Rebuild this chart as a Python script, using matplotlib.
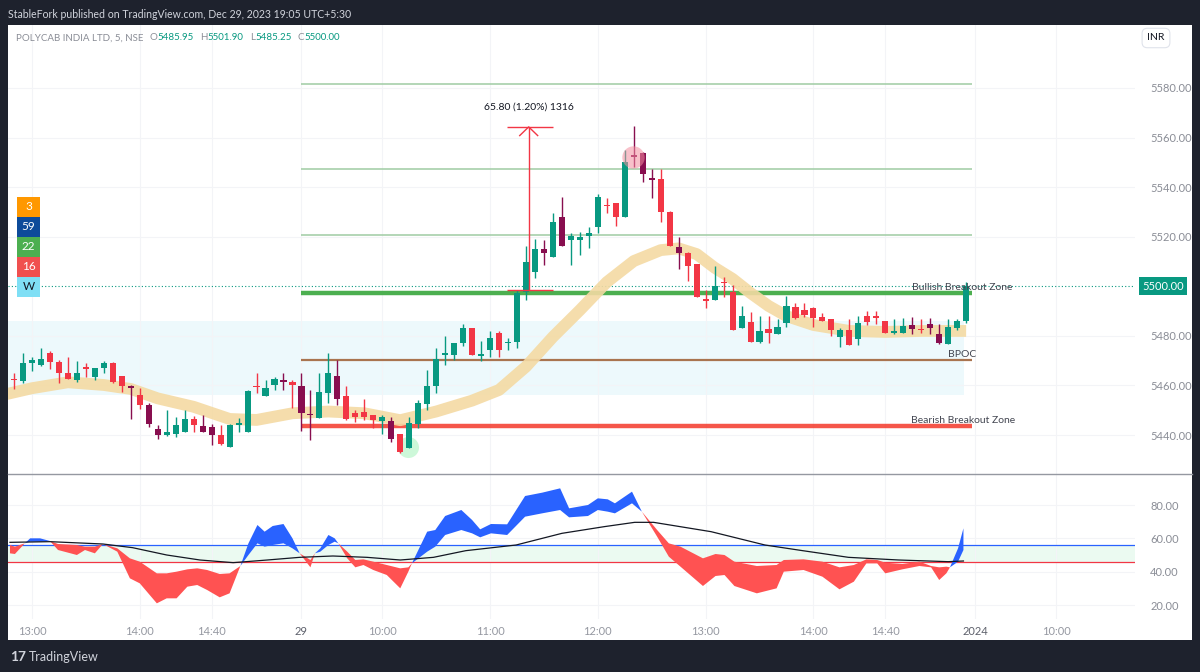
import matplotlib.pyplot as plt
import numpy as np
from matplotlib.patches import Rectangle
from matplotlib.lines import Line2D

# --- price data (5 min bars, bar index 0 = 28 Dec 13:00) ---
bar_idx = list(range(-2, 105))
opens = [5462.6, 5461.9, 5469.2, 5468.4, 5473.0, 5469.6, 5464.9, 5462.2, 5467.6, 5463.5,
         5466.9, 5469.2, 5463.9, 5459.8, 5456.2, 5452.1, 5442.3, 5440.0, 5440.4, 5441.3,
         5446.3, 5443.8, 5443.1, 5440.0, 5435.3, 5444.0, 5441.3, 5459.5, 5455.9, 5460.2,
         5462.2, 5461.3, 5459.8, 5448.5, 5446.8, 5456.8, 5463.9, 5455.9, 5449.0, 5449.3,
         5448.1, 5445.8, 5445.8, 5440.4, 5434.9, 5444.5, 5452.5, 5459.8, 5472.4, 5472.3,
         5477.0, 5483.1, 5472.0, 5474.3, 5481.3, 5477.0, 5477.7, 5497.8, 5505.9, 5514.9,
         5511.9, 5528.1, 5518.7, 5518.7, 5520.3, 5523.8, 5532.8, 5533.5, 5528.1, 5553.0,
         5553.9, 5543.6, 5543.2, 5530.1, 5516.0, 5513.6, 5509.0, 5494.8, 5494.5, 5501.9,
         5497.8, 5483.1, 5485.7, 5477.7, 5482.7, 5480.8, 5485.1, 5491.8, 5490.5, 5491.1,
         5487.5, 5486.7, 5479.4, 5482.4, 5478.6, 5488.0, 5488.0, 5486.1, 5481.3, 5481.3,
         5484.4, 5482.7, 5484.8, 5480.8, 5476.7, 5483.1, 5485.95]
highs = [5465.2, 5473.2, 5471.6, 5475.0, 5473.9, 5470.3, 5471.6, 5470.0, 5469.2, 5467.2,
         5470.0, 5469.5, 5464.0, 5460.0, 5458.9, 5452.8, 5444.0, 5450.1, 5447.2, 5450.1,
         5447.7, 5448.1, 5444.5, 5444.0, 5444.5, 5446.8, 5458.0, 5465.2, 5462.2, 5463.5,
         5465.2, 5462.2, 5465.0, 5458.2, 5465.0, 5473.0, 5470.3, 5459.8, 5450.1, 5454.4,
         5448.2, 5448.1, 5447.4, 5440.5, 5447.4, 5454.1, 5466.2, 5475.0, 5480.0, 5477.1,
         5484.7, 5483.2, 5478.1, 5482.1, 5482.1, 5479.0, 5498.5, 5516.3, 5519.1, 5518.7,
         5529.5, 5536.2, 5521.6, 5522.0, 5523.8, 5537.2, 5535.5, 5533.6, 5555.0, 5564.7,
         5554.0, 5547.2, 5547.2, 5530.2, 5520.0, 5513.7, 5509.1, 5498.5, 5508.2, 5503.9,
         5500.5, 5492.1, 5489.8, 5488.0, 5488.0, 5486.7, 5496.1, 5493.4, 5493.1, 5491.5,
         5489.1, 5486.8, 5483.1, 5486.7, 5488.0, 5490.2, 5490.2, 5486.2, 5486.7, 5487.1,
         5487.5, 5486.7, 5487.1, 5484.8, 5486.7, 5486.7, 5501.9]
lows = [5458.5, 5460.9, 5466.0, 5467.9, 5466.5, 5460.9, 5462.5, 5461.5, 5463.5, 5462.2,
        5465.2, 5461.0, 5457.5, 5446.3, 5450.4, 5443.1, 5438.3, 5439.6, 5439.3, 5441.2,
        5441.3, 5441.3, 5436.0, 5436.0, 5435.3, 5441.3, 5441.2, 5457.1, 5455.8, 5458.2,
        5458.2, 5450.8, 5441.6, 5438.0, 5446.7, 5452.8, 5452.1, 5446.2, 5445.4, 5446.1,
        5442.7, 5440.4, 5437.3, 5432.6, 5434.8, 5442.7, 5450.1, 5457.1, 5468.3, 5470.3,
        5475.9, 5472.2, 5470.0, 5471.6, 5471.4, 5474.3, 5475.0, 5494.5, 5503.2, 5508.6,
        5511.9, 5516.2, 5508.6, 5512.6, 5515.3, 5521.4, 5529.5, 5524.3, 5528.0, 5548.3,
        5542.2, 5535.5, 5526.1, 5516.2, 5506.9, 5502.3, 5495.7, 5491.1, 5494.4, 5495.8,
        5482.3, 5483.0, 5477.6, 5477.3, 5477.3, 5480.7, 5483.7, 5487.0, 5487.5, 5483.5,
        5486.0, 5480.0, 5475.4, 5476.2, 5476.3, 5484.4, 5484.8, 5481.0, 5480.8, 5481.2,
        5480.8, 5481.3, 5480.8, 5476.7, 5476.6, 5482.4, 5485.25]
closes = [5462.2, 5469.2, 5470.3, 5470.6, 5469.6, 5464.9, 5462.7, 5464.9, 5466.5, 5466.9,
          5469.2, 5461.3, 5459.8, 5458.9, 5452.1, 5444.5, 5440.0, 5441.1, 5444.0, 5446.3,
          5444.0, 5441.3, 5440.0, 5436.3, 5444.0, 5444.7, 5457.9, 5459.2, 5458.9, 5462.5,
          5461.3, 5460.3, 5448.9, 5447.9, 5457.5, 5464.9, 5454.4, 5446.3, 5447.4, 5447.4,
          5446.1, 5447.4, 5438.3, 5433.3, 5444.7, 5452.8, 5459.8, 5470.6, 5473.0, 5477.0,
          5483.1, 5472.3, 5472.7, 5479.0, 5474.3, 5477.4, 5497.2, 5509.9, 5515.0, 5513.3,
          5525.8, 5516.3, 5520.3, 5520.0, 5521.4, 5535.9, 5532.4, 5528.1, 5550.3, 5552.0,
          5545.3, 5542.9, 5530.1, 5516.3, 5513.6, 5508.2, 5495.8, 5494.2, 5500.1, 5501.2,
          5482.4, 5488.0, 5477.7, 5482.1, 5481.3, 5483.5, 5492.1, 5487.1, 5488.4, 5487.1,
          5486.1, 5482.4, 5482.4, 5476.3, 5485.3, 5485.7, 5487.1, 5481.3, 5481.7, 5484.0,
          5482.7, 5482.4, 5483.1, 5477.0, 5483.5, 5486.1, 5500.0]
# g = up, r = down, m = strong down (maroon bar colouring); one letter per bar
kinds = ("rgggrrrgrgg" "rrmrmmgggrmmrggg"
         "rggmrmmggm" "rrrrgmrggg" "ggggrggrgg" "ggmgmggggr"
         "rgmmmrrmrr" "rgrrgrgrgg" "rrrrrgrgrr" "rggmrmmggg")

# smoothed average band
ma_x = [-3, 0, 4, 8, 11, 14, 18, 22, 25, 29, 33, 37, 41, 45, 49, 52, 55, 58, 61, 64,
        67, 70, 72, 74, 76, 78, 80, 82, 84, 87, 91, 95, 99, 104]
ma_y = [5456.4, 5458.9, 5461.3, 5460.2, 5458.6, 5454.8, 5451.4, 5446.5, 5446.1, 5448.8,
        5449.5, 5448.8, 5446.0, 5449.5, 5453.9, 5458.2, 5467.6, 5479.6, 5490.4, 5501.7,
        5510.2, 5514.6, 5515.3, 5513.0, 5507.5, 5503.0, 5497.3, 5492.1, 5488.0, 5484.4,
        5482.0, 5481.6, 5482.0, 5482.0]

fib_levels = [5581.6, 5547.3, 5520.7]
bull_level = 5497.2
bpoc_level = 5470.3
bear_level = 5443.6
zone_lo, zone_hi = 5456.2, 5486.0
last_price = 5500.00
measure_lo, measure_hi = 5498.5, 5564.3

# --- oscillator ---
ind_x = [-2.45, -1.9, -0.8, -0.2, 0.9, 2.0, 2.9, 5.0, 5.9, 7.0, 7.9, 9.5, 10.9, 12.0,
         13.9, 15.0, 16.1, 17.3, 18.4, 19.5, 20.9, 22.0, 23.2, 24.1, 25.1, 25.9, 26.8,
         28.0, 29.0, 29.8, 31.0, 31.5, 32.1, 33.0, 33.7, 34.1, 35.1, 36.0, 36.9, 38.0,
         39.5, 41.0, 41.9, 42.3, 44.0, 44.9, 46.0, 47.8, 49.0, 49.9, 51.1, 52.9, 54.9,
         56.8, 58.8, 59.8, 61.9, 63.0, 64.1, 64.9, 66.8, 67.9, 69.6, 70.9, 72.2, 74.7,
         76.1, 77.1, 78.2, 80.7, 82.9, 83.7, 85.9, 88.0, 89.9, 91.5, 92.9, 94.1, 95.0,
         96.9, 98.8, 100.1, 101.0, 101.8, 102.2, 103.1, 103.7]
ind_fast = [51.0, 50.6, 57.0, 60.0, 60.0, 58.4, 53.0, 50.0, 53.0, 51.0, 56.6, 52.0, 36.0,
            33.0, 21.0, 24.0, 24.0, 31.0, 32.0, 29.0, 24.6, 27.0, 43.4, 57.0, 68.0, 64.0,
            67.4, 68.6, 60.0, 51.0, 42.6, 51.0, 54.0, 62.0, 60.0, 57.0, 48.0, 42.6, 44.0,
            41.0, 38.0, 30.0, 40.0, 45.0, 64.0, 65.0, 73.4, 77.0, 71.0, 65.4, 68.6, 68.4,
            85.4, 87.4, 90.0, 78.0, 80.0, 84.0, 83.4, 81.0, 88.0, 76.0, 61.0, 49.0, 43.0,
            31.4, 37.4, 38.0, 31.4, 27.0, 30.0, 40.0, 41.0, 37.0, 29.4, 34.0, 45.0, 45.0,
            39.0, 41.4, 43.4, 42.6, 35.0, 39.0, 42.6, 54.0, 66.0]
ind_slow = [56.0, 55.0, 57.0, 58.0, 58.0, 58.4, 56.6, 56.0, 55.0, 55.0, 56.6, 54.0, 48.0,
            46.0, 39.0, 39.0, 40.0, 41.4, 42.0, 41.0, 38.6, 39.0, 43.4, 50.0, 57.0, 55.0,
            56.0, 57.0, 54.0, 51.0, 47.0, 51.0, 52.0, 56.0, 58.0, 57.0, 52.0, 47.0, 47.4,
            46.0, 44.0, 42.0, 42.6, 45.0, 52.0, 55.0, 62.0, 65.0, 63.0, 60.6, 63.0, 62.0,
            73.0, 75.0, 77.0, 72.6, 73.4, 77.0, 76.0, 75.0, 81.0, 76.0, 65.0, 57.0, 55.0,
            48.0, 50.6, 50.0, 46.0, 43.4, 44.0, 47.0, 47.4, 46.0, 42.6, 44.0, 47.4, 47.0,
            45.4, 44.6, 46.0, 43.4, 42.6, 43.0, 42.6, 46.0, 53.0]
sig_x = [-2.45, 2.0, 7.9, 11.2, 15.0, 18.7, 22.4, 26.2, 29.8, 33.5, 37.3, 41.0, 44.7,
         48.3, 53.9, 59.0, 63.7, 67.1, 69.2, 75.6, 81.6, 85.8, 90.9, 96.5, 102.0, 103.7]
sig_y = [57.6, 58.0, 56.6, 54.4, 50.0, 47.0, 45.4, 47.0, 48.6, 49.4, 48.6, 47.0, 48.6,
         52.6, 56.0, 63.0, 67.0, 69.6, 69.6, 64.0, 56.0, 52.6, 48.6, 47.0, 46.0, 46.4]
ind_upper, ind_lower = 56, 46

tick_pos = [0, 12, 20, 30, 39, 51, 63, 75, 87, 95, 105, 114]
tick_lbl = ["13:00", "14:00", "14:40", "29", "10:00", "11:00", "12:00", "13:00",
            "14:00", "14:40", "2024", "10:00"]

assert len(kinds) == len(bar_idx) == len(opens)

GREEN, RED, MAROON = "#089981", "#f23645", "#880e4f"
GREY = "#8a8d96"
plt.rcParams["font.family"] = ["Lato", "DejaVu Sans"]

W, H = 1200, 672
fig = plt.figure(figsize=(12, 6.72), dpi=100, facecolor="#1e222d")


def fx(px):
    return px / W


def fy(py):
    return 1 - py / H


fig.patches.append(Rectangle((fx(8), fy(640)), fx(1192) - fx(8), fy(25) - fy(640),
                             transform=fig.transFigure, fc="white", ec="none", zorder=-5))

ax = fig.add_axes([fx(8), fy(474), fx(1135) - fx(8), fy(25) - fy(474)])
ax2 = fig.add_axes([fx(8), fy(619), fx(1135) - fx(8), fy(474) - fy(619)], sharex=ax)
for a in (ax, ax2):
    a.set_facecolor("none")
    for s in a.spines.values():
        s.set_visible(False)
    a.yaxis.tick_right()
    a.tick_params(axis="both", length=0, labelsize=8, labelcolor=GREY)
    a.grid(True, color="#f3f4f7", lw=0.8, zorder=0)

ax.set_xlim(-2.67, 122.8)
ax.set_ylim(5424.3, 5605.4)
ax.tick_params(axis="x", labelbottom=False)
ax.tick_params(axis="y", pad=11)
pticks = [5440, 5460, 5480, 5520, 5540, 5560, 5580]
ax.set_yticks(pticks)
ax.set_yticklabels([f"{p:.2f}" for p in pticks])

# zone + levels
ax.add_patch(Rectangle((-3, zone_lo), 103.8 + 3, zone_hi - zone_lo, fc="#edf9fc",
                       ec="none", zorder=1))
for lv in fib_levels:
    ax.hlines(lv, 29.9, 104.7, color="#9fcca3", lw=1.1, zorder=2)
ax.hlines(bull_level, 29.9, 104.7, color="#4caf50", lw=3.2, zorder=2)
ax.hlines(bpoc_level, 29.9, 104.7, color="#a9744f", lw=1.6, zorder=2)
ax.hlines(bear_level, 29.9, 104.7, color="#f44336", lw=3.2, zorder=2, alpha=0.9)
ax.axhline(last_price, color=GREEN, lw=0.8, ls=(0, (1, 2)), zorder=2)

ax.plot(ma_x, ma_y, color="#f4daa3", lw=8.5, alpha=0.9, solid_capstyle="butt",
        solid_joinstyle="round", zorder=3)

# candles
o, h, l, c = map(np.array, (opens, highs, lows, closes))
xs = np.array(bar_idx)
cols = [{"g": GREEN, "r": RED, "m": MAROON}[k] for k in kinds]
ax.vlines(xs, l, h, colors=cols, lw=1.0, zorder=4)
body_lo = np.minimum(o, c)
body_h = np.maximum(np.abs(c - o), 0.55)
ax.bar(xs, body_h, 0.68, bottom=body_lo, color=cols, lw=0, zorder=5)

# markers
ax.scatter([66.9], [5552.3], s=260, color="#f48fa0", alpha=0.55, lw=0, zorder=6)
ax.scatter([41.9], [5435.2], s=230, color="#b9f6ca", alpha=0.7, lw=0, zorder=3)

# measure tool
mx = 55.3
ax.vlines(mx, measure_lo, measure_hi, color=RED, lw=1.0, zorder=7)
ax.hlines([measure_lo, measure_hi], 52.9, 58.0, color=RED, lw=1.0, zorder=7)
ax.plot([mx - 1.0, mx, mx + 1.0], [measure_hi - 3.5, measure_hi, measure_hi - 3.5],
        color=RED, lw=1.0, zorder=7)
ax.text(mx, measure_hi + 8, f"{measure_hi - measure_lo:.2f} (1.20%) 1316", ha="center",
        va="center", fontsize=7.5, color="#131722", zorder=8)

ax.text(98.0, bull_level + 2.4, "Bullish Breakout Zone", fontsize=7.5, color="#434651",
        va="center", ha="left", zorder=8)
ax.text(105.1, bpoc_level + 2.4, "BPOC", fontsize=7.5, color="#434651", va="center",
        ha="right", zorder=8)
ax.text(97.9, bear_level + 2.4, "Bearish Breakout Zone", fontsize=7.5, color="#434651",
        va="center", ha="left", zorder=8)

ax.text(1.0 + 28 / 1127, last_price, f"{last_price:.2f}", transform=ax.get_yaxis_transform(),
        ha="center", va="center", fontsize=8, color="white", zorder=10,
        bbox=dict(boxstyle="square,pad=0.3", fc=GREEN, ec="none"))

# oscillator pane
ax2.set_ylim(11.6, 98.6)
ax2.set_yticks([20, 40, 60, 80])
ax2.set_yticklabels(["20.00", "40.00", "60.00", "80.00"])
ax2.tick_params(axis="y", pad=11)
ax2.set_xticks(tick_pos)
ax2.set_xticklabels(tick_lbl)
ax2.tick_params(axis="x", pad=5, labelcolor="#9598a1")
for t in ax2.get_xticklabels():
    if t.get_text() in ("29", "2024"):
        t.set_color("#5d606b")
ax2.axhspan(ind_lower, ind_upper, color="#ebfaf1", lw=0, zorder=1)
ax2.axhline(ind_upper, color="#2962ff", lw=0.9, zorder=2)
ax2.axhline(ind_lower, color="#f23645", lw=0.9, zorder=2)
fa, fs = np.array(ind_fast), np.array(ind_slow)
ax2.fill_between(ind_x, fa, fs, where=fa >= fs, interpolate=True, color="#2962ff", lw=0,
                 zorder=3)
ax2.fill_between(ind_x, fa, fs, where=fa <= fs, interpolate=True, color="#ff5252", lw=0,
                 zorder=3)
ax2.plot(sig_x, sig_y, color="#131722", lw=0.9, zorder=4)

# pane separator
fig.add_artist(Line2D([fx(8), fx(1192)], [fy(474), fy(474)], transform=fig.transFigure,
                      color="#9598a1", lw=1.0))

# left status boxes
box_txt = ["3", "59", "22", "16", "W"]
box_col = ["#ff9800", "#0d4b9a", "#4caf50", "#f0504f", "#7fdff5"]
box_fg = ["white", "white", "white", "white", "#131722"]
for i, (t, bc, fc) in enumerate(zip(box_txt, box_col, box_fg)):
    y0 = 197 + 20 * i
    fig.patches.append(Rectangle((fx(17), fy(y0 + 20)), fx(40) - fx(17), fy(y0) - fy(y0 + 20),
                                 transform=fig.transFigure, fc=bc, ec="none", zorder=5))
    fig.text(fx(28.5), fy(y0 + 10), t, ha="center", va="center", fontsize=8.5, color=fc,
             zorder=6)

# header texts
fig.text(fx(8), fy(14), "StableFork published on TradingView.com, Dec 29, 2023 19:05 UTC+5:30",
         fontsize=7.6, color="#d1d4dc", va="center", ha="left")
renderer = fig.canvas.get_renderer()
legend_parts = [("POLYCAB INDIA LTD, 5, NSE", GREY, 6), ("O", GREY, 0.5),
                ("5485.95", GREEN, 6), ("H", GREY, 0.5), ("5501.90", GREEN, 6),
                ("L", GREY, 0.5), ("5485.25", GREEN, 6), ("C", GREY, 0.5),
                ("5500.00", GREEN, 0)]
cur = 16
for txt, col, gap in legend_parts:
    t = fig.text(fx(cur), fy(38), txt, fontsize=7, color=col, va="center", ha="left")
    cur += t.get_window_extent(renderer=renderer).width + gap

fig.text(fx(1156), fy(38), "INR", fontsize=7.5, color="#131722", ha="center", va="center",
         bbox=dict(boxstyle="round,pad=0.5", fc="white", ec="#e0e3eb", lw=0.8))

# footer logo
fig.text(fx(10), fy(657), "17", fontsize=10, color="#d1d4dc", fontweight="bold",
         va="center", ha="left")
fig.text(fx(29), fy(657), "TradingView", fontsize=9, color="#d1d4dc", va="center", ha="left")

fig.savefig("out.png", dpi=100, facecolor=fig.get_facecolor())
